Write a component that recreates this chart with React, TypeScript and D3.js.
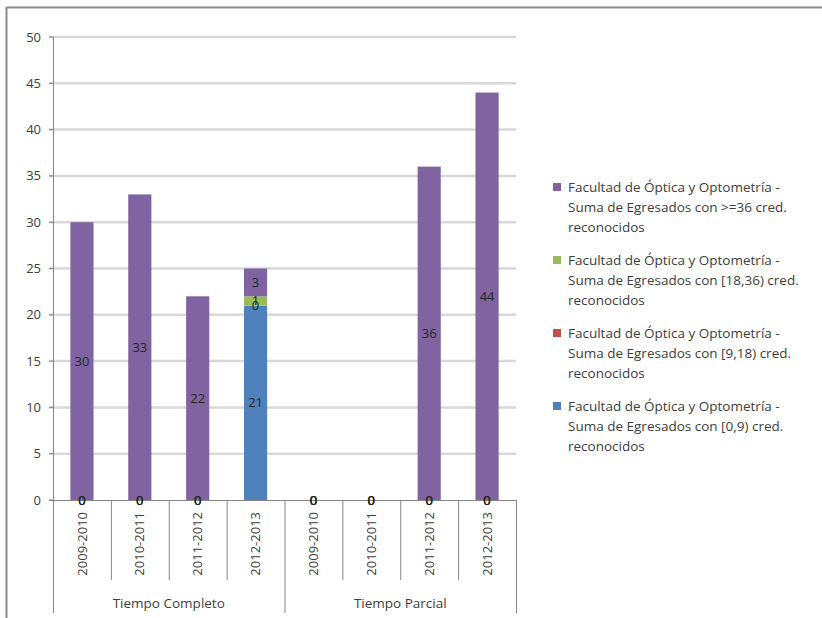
import React from "react";
import * as d3 from "d3";

const groups = ["Tiempo Completo", "Tiempo Parcial"];
const years = ["2009-2010", "2010-2011", "2011-2012", "2012-2013"];
const legendLines = [
  ["Facultad de Óptica y Optometría -", "Suma de Egresados con >=36 cred.", "reconocidos"],
  ["Facultad de Óptica y Optometría -", "Suma de Egresados con [18,36) cred.", "reconocidos"],
  ["Facultad de Óptica y Optometría -", "Suma de Egresados con [9,18) cred.", "reconocidos"],
  ["Facultad de Óptica y Optometría -", "Suma de Egresados con [0,9) cred.", "reconocidos"],
];
// stack order bottom -> top: [0,9), [9,18), [18,36), >=36
const seriesColors = ["#4F81BD", "#C0504D", "#9BBB59", "#8064A2"];
// values per category: TC 2009..2012, TP 2009..2012
const s0_9 = [0, 0, 0, 21, 0, 0, 0, 0];
const s9_18 = [0, 0, 0, 0, 0, 0, 0, 0];
const s18_36 = [0, 0, 0, 1, 0, 0, 0, 0];
const s36 = [30, 33, 22, 3, 0, 0, 36, 44];
const yTicks = [0, 5, 10, 15, 20, 25, 30, 35, 40, 45, 50];

const FONT = "'Open Sans', 'Liberation Sans', sans-serif";

export default function App() {
  const left = 53, right = 516, top = 37, bottom = 500;
  const keys = groups.flatMap((g) => years.map((y) => g + "|" + y));
  const x = d3.scaleBand().domain(keys).range([left, right]).paddingInner(0.6).paddingOuter(0.3);
  const y = d3.scaleLinear().domain([0, 50]).range([bottom, top]);
  const rows = keys.map((k, i) => ({ key: k, a: s0_9[i], b: s9_18[i], c: s18_36[i], d: s36[i] }));
  const stack = d3.stack<any>().keys(["a", "b", "c", "d"]);
  const stacked = stack(rows);
  const step = x.step();
  const boundaries = d3.range(keys.length + 1).map((i) => left + i * step);
  const groupW = step * years.length;

  return (
    <svg width={822} height={618} style={{ position: "absolute", left: 0, top: 0, background: "#fff" }} fontFamily={FONT}>
      <rect x={0} y={0} width={822} height={618} fill="#fff" />
      {/* frame */}
      <line x1={6} y1={7.5} x2={822} y2={7.5} stroke="#8c8c8c" strokeWidth={2} />
      <line x1={6.5} y1={7} x2={6.5} y2={618} stroke="#8c8c8c" strokeWidth={2} />
      {/* gridlines */}
      {yTicks.map((t) => (
        <g key={t}>
          {t > 0 && <line x1={left - 4} x2={right} y1={y(t)} y2={y(t)} stroke="#d9d9d9" strokeWidth={2.5} />}
          <text x={41} y={y(t)} dy="0.35em" textAnchor="end" fontSize={13} fill="#404040">{t}</text>
          <line x1={left - 4} x2={left} y1={y(t)} y2={y(t)} stroke="#868686" strokeWidth={1} />
        </g>
      ))}
      {/* bars */}
      {stacked.map((layer, si) => (
        <g key={si}>
          {layer.map((d: any, i: number) => (
            <rect key={i} x={x(keys[i])} width={x.bandwidth()} y={y(d[1])} height={y(d[0]) - y(d[1])} fill={seriesColors[si]} />
          ))}
        </g>
      ))}
      {/* axes */}
      <line x1={left + 0.5} x2={left + 0.5} y1={top} y2={bottom} stroke="#868686" strokeWidth={1} />
      <line x1={left - 4} x2={right} y1={bottom + 0.5} y2={bottom + 0.5} stroke="#868686" strokeWidth={1} />
      {boundaries.map((bx, i) => (
        <line key={i} x1={bx + 0.5} x2={bx + 0.5} y1={bottom} y2={i % years.length === 0 ? 613 : 580} stroke="#868686" strokeWidth={1} />
      ))}
      {/* data labels */}
      {stacked.map((layer, si) => (
        <g key={"l" + si}>
          {layer.map((d: any, i: number) => (
            <text key={i} x={(x(keys[i]) as number) + x.bandwidth() / 2} y={y((d[0] + d[1]) / 2)} dy="0.35em" textAnchor="middle" fontSize={13} fill="#262626">
              {d[1] - d[0]}
            </text>
          ))}
        </g>
      ))}
      {/* category labels */}
      {keys.map((k) => (
        <text key={k} transform={`translate(${(x(k) as number) + x.bandwidth() / 2},${512}) rotate(-90)`} dy="0.35em" textAnchor="end" fontSize={13} fill="#404040">
          {k.split("|")[1]}
        </text>
      ))}
      {groups.map((g, gi) => (
        <text key={g} x={left + groupW * gi + groupW / 2} y={603} dy="0.35em" textAnchor="middle" fontSize={13.5} fill="#404040">{g}</text>
      ))}
      {/* legend */}
      {legendLines.map((lines, li) => (
        <g key={li} transform={`translate(0,${187 + li * 73})`}>
          <rect x={553} y={-4} width={8} height={8} fill={seriesColors[3 - li]} />
          {lines.map((ln, j) => (
            <text key={j} x={568} y={j * 20} dy="0.35em" fontSize={13.5} fill="#404040">{ln}</text>
          ))}
        </g>
      ))}
    </svg>
  );
}
